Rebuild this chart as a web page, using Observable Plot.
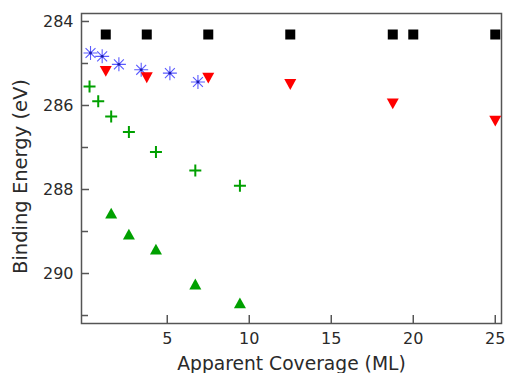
<!DOCTYPE html>
<html><head><meta charset="utf-8">
<script src="https://cdn.jsdelivr.net/npm/d3@7"></script>
<script src="https://cdn.jsdelivr.net/npm/@observablehq/plot@0.6"></script>
<style>body{margin:0;background:#fff}</style>
</head><body><div id="chart"></div>
<script>
// Data
const squareX = [1.25, 3.75, 7.5, 12.5, 18.75, 20, 25];
const squareY = [284.31, 284.31, 284.31, 284.31, 284.31, 284.31, 284.31];
const redX = [1.25, 3.75, 7.5, 12.5, 18.75, 25];
const redY = [285.19, 285.34, 285.35, 285.5, 285.96, 286.37];
const blueX = [0.32, 1.03, 2.05, 3.41, 5.16, 6.87];
const blueY = [284.75, 284.83, 285.02, 285.15, 285.23, 285.44];
const plusX = [0.26, 0.79, 1.58, 2.66, 4.31, 6.71, 9.43];
const plusY = [285.55, 285.9, 286.26, 286.63, 287.11, 287.55, 287.91];
const triX = [1.58, 2.66, 4.31, 6.71, 9.43];
const triY = [288.56, 289.06, 289.42, 290.25, 290.7];
const xTicks = [5, 10, 15, 20, 25];
const yTicks = [284, 286, 288, 290];
const yMinor = [285, 287, 289, 291];
const xLabel = "Apparent Coverage (ML)";
const yLabel = "Binding Energy (eV)";

const pts = (xs, ys) => xs.map((x, i) => ({x, y: ys[i]}));

const rad = s => Math.sqrt(s / Math.PI);
const symSquare = {draw(c, s) { const r = rad(s); c.rect(-r, -r, 2 * r, 2 * r); }};
const symTriUp = {draw(c, s) { const r = rad(s), h = r * 0.9; c.moveTo(0, -h); c.lineTo(r, h); c.lineTo(-r, h); c.closePath(); }};
const symTriDown = {draw(c, s) { const r = rad(s), h = r * 0.9; c.moveTo(0, h); c.lineTo(r, -h); c.lineTo(-r, -h); c.closePath(); }};
const symPlus = {draw(c, s) { const r = rad(s); c.moveTo(-r, 0); c.lineTo(r, 0); c.moveTo(0, -r); c.lineTo(0, r); }};
const symStar = {draw(c, s) { const r = rad(s), d = r * Math.SQRT1_2;
  c.moveTo(-r, 0); c.lineTo(r, 0); c.moveTo(0, -r); c.lineTo(0, r);
  c.moveTo(-d, -d); c.lineTo(d, d); c.moveTo(-d, d); c.lineTo(d, -d); }};

const axisColor = "#555";
const textColor = "#2a2a2a";
const chart = Plot.plot({
  width: 505,
  height: 373,
  marginTop: 13,
  marginRight: 4,
  marginBottom: 50,
  marginLeft: 81,
  style: {fontFamily: "DejaVu Sans, sans-serif", fontSize: "16px", color: textColor, background: "#fff"},
  x: {domain: [-0.23, 25.38]},
  y: {domain: [283.81, 291.19], reverse: true},
  marks: [
    Plot.frame({stroke: axisColor, strokeWidth: 1.5}),
    Plot.axisX(xTicks, {tickSize: -8, tickPadding: 17, stroke: axisColor, strokeWidth: 1.5, fill: textColor, fontSize: 16, label: null}),
    Plot.axisY(yTicks, {tickSize: -8, tickPadding: 16, stroke: axisColor, strokeWidth: 1.5, fill: textColor, fontSize: 16, label: null}),
    Plot.axisY(yMinor, {tickSize: -7, stroke: axisColor, strokeWidth: 1.5, fill: "none", label: null}),
    Plot.dot(pts(squareX, squareY), {x: "x", y: "y", symbol: symSquare, r: 5, fill: "#000", stroke: "none"}),
    Plot.dot(pts(blueX, blueY), {x: "x", y: "y", symbol: symStar, r: 7, fill: "none", stroke: "#5a5aff", strokeWidth: 1.1}),
    Plot.dot(pts(blueX, blueY), {x: "x", y: "y", r: 1.4, fill: "#1c1ca8", stroke: "none"}),
    Plot.dot(pts(redX, redY), {x: "x", y: "y", symbol: symTriDown, r: 6, fill: "#ff0000", stroke: "none"}),
    Plot.dot(pts(plusX, plusY), {x: "x", y: "y", symbol: symPlus, r: 6, fill: "none", stroke: "#00a000", strokeWidth: 2}),
    Plot.dot(pts(triX, triY), {x: "x", y: "y", symbol: symTriUp, r: 6, fill: "#00a000", stroke: "none"}),
    Plot.text([xLabel], {text: d => d, frameAnchor: "bottom", textAnchor: "middle", lineAnchor: "middle", dy: 41, fontSize: 18.7, fill: textColor}),
    Plot.text([yLabel], {text: d => d, frameAnchor: "left", textAnchor: "middle", lineAnchor: "middle", dx: -61, dy: 8, rotate: -90, fontSize: 19.5, fill: textColor})
  ]
});
document.getElementById("chart").appendChild(chart);
</script>
</body></html>
